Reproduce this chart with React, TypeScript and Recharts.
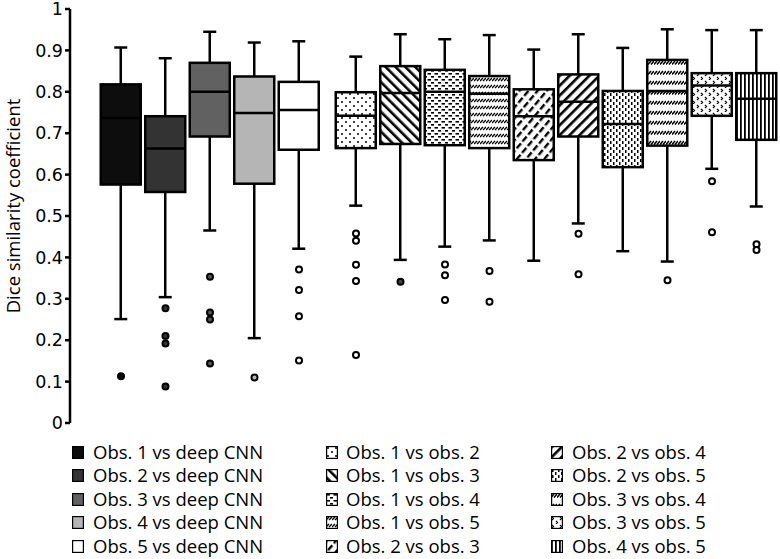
import { ComposedChart, Bar, Scatter, XAxis, YAxis } from "recharts";

// one box per comparison
const labels = [
  "Obs. 1 vs deep CNN",
  "Obs. 2 vs deep CNN",
  "Obs. 3 vs deep CNN",
  "Obs. 4 vs deep CNN",
  "Obs. 5 vs deep CNN",
  "Obs. 1 vs obs. 2",
  "Obs. 1 vs obs. 3",
  "Obs. 1 vs obs. 4",
  "Obs. 1 vs obs. 5",
  "Obs. 2 vs obs. 3",
  "Obs. 2 vs obs. 4",
  "Obs. 2 vs obs. 5",
  "Obs. 3 vs obs. 4",
  "Obs. 3 vs obs. 5",
  "Obs. 4 vs obs. 5",
];
const whiskerLow = [0.251, 0.304, 0.465, 0.205, 0.421, 0.525, 0.394, 0.426, 0.441, 0.392, 0.482, 0.415, 0.39, 0.614, 0.523];
const q1 = [0.576, 0.558, 0.692, 0.578, 0.66, 0.664, 0.674, 0.671, 0.664, 0.635, 0.692, 0.618, 0.67, 0.742, 0.684];
const medians = [0.737, 0.663, 0.8, 0.749, 0.756, 0.742, 0.797, 0.8, 0.795, 0.741, 0.776, 0.722, 0.802, 0.815, 0.783];
const q3 = [0.818, 0.741, 0.87, 0.837, 0.824, 0.799, 0.862, 0.853, 0.838, 0.806, 0.842, 0.802, 0.877, 0.845, 0.845];
const whiskerHigh = [0.907, 0.881, 0.945, 0.919, 0.922, 0.885, 0.939, 0.927, 0.937, 0.902, 0.939, 0.906, 0.951, 0.949, 0.949];
const outliers = [
  [0.113],
  [0.277, 0.21, 0.192, 0.088],
  [0.353, 0.267, 0.25, 0.144],
  [0.11],
  [0.371, 0.321, 0.258, 0.151],
  [0.458, 0.44, 0.382, 0.343, 0.164],
  [0.341],
  [0.383, 0.357, 0.297],
  [0.367, 0.293],
  [],
  [0.457, 0.359],
  [],
  [0.345],
  [0.584, 0.461],
  [0.432, 0.418],
];
const yTicks = [0, 0.1, 0.2, 0.3, 0.4, 0.5, 0.6, 0.7, 0.8, 0.9, 1];

// styling
const boxFills = [
  "#0d0d0d", "#333333", "#616161", "#b5b5b5", "#ffffff",
  "url(#pDots)", "url(#pDiagBack)", "url(#pDash)", "url(#pBand)", "url(#pDiagBroken)",
  "url(#pDiagFwd)", "url(#pVDash)", "url(#pBand2)", "url(#pChev)", "url(#pVLines)",
];
const outlierFills = [
  "#0d0d0d", "#333333", "#555555", "#b5b5b5", "#fff",
  "#fff", "#444", "#fff", "#fff", "#fff", "#fff", "#fff", "#fff", "#fff", "#fff",
];
const GROUP_GAP = 0.281; // extra room between the CNN group and the observer pairs
const slotOf = (i: number) => i + 1 + (i >= 5 ? GROUP_GAP : 0);

const boxes = labels.map((name, i) => ({
  name,
  x: slotOf(i),
  range: [whiskerLow[i], whiskerHigh[i]],
  min: whiskerLow[i],
  q1: q1[i],
  median: medians[i],
  q3: q3[i],
  max: whiskerHigh[i],
  fill: boxFills[i],
}));
const outlierPoints = outliers.flatMap((vals, i) =>
  vals.map((v) => ({ x: slotOf(i), y: v, fill: outlierFills[i] }))
);

const SW = 2.5;

const BoxShape = (props: any) => {
  const { x, y, width, height, payload } = props;
  if (!payload || height == null) return null;
  const { min, q1, median, q3, max, fill } = payload;
  const py = (v: number) => y + ((max - v) / (max - min)) * height;
  const cx = x + width / 2;
  return (
    <g>
      <line x1={cx} x2={cx} y1={py(max)} y2={py(q3)} stroke="#000" strokeWidth={SW} />
      <line x1={cx} x2={cx} y1={py(q1)} y2={py(min)} stroke="#000" strokeWidth={SW} />
      <line x1={cx - 6.5} x2={cx + 6.5} y1={py(max)} y2={py(max)} stroke="#000" strokeWidth={SW} />
      <line x1={cx - 6.5} x2={cx + 6.5} y1={py(min)} y2={py(min)} stroke="#000" strokeWidth={SW} />
      <rect x={x} y={py(q3)} width={width} height={py(q1) - py(q3)} fill={fill} stroke="#000" strokeWidth={SW} />
      <line x1={x} x2={x + width} y1={py(median)} y2={py(median)} stroke="#000" strokeWidth={SW} />
    </g>
  );
};

const OutlierDot = (props: any) => {
  const { cx, cy, payload } = props;
  return <circle cx={cx} cy={cy} r={3} fill={payload.fill} stroke="#000" strokeWidth={2} />;
};

const AxisTitle = (props: any) => {
  const vb = props.viewBox || {};
  const x = (vb.x ?? 0) + 20;
  const y = (vb.y ?? 0) + (vb.height ?? 0) / 2 - 10;
  return (
    <text x={x} y={y} transform={`rotate(-90 ${x} ${y})`} textAnchor="middle" fontSize={18.5} fontFamily="Open Sans" fill="#000">
      Dice similarity coefficient
    </text>
  );
};

const Patterns = () => (
  <defs>
    <pattern id="pDots" width="8" height="8" patternUnits="userSpaceOnUse">
      <rect width="8" height="8" fill="#fff" />
      <circle cx="2" cy="2" r="1" fill="#000" />
      <circle cx="6" cy="6" r="1" fill="#000" />
    </pattern>
    <pattern id="pDiagBack" width="7" height="7" patternUnits="userSpaceOnUse" patternTransform="rotate(-45)">
      <rect width="7" height="7" fill="#fff" />
      <rect width="2.6" height="7" fill="#000" />
    </pattern>
    <pattern id="pDiagFwd" width="7" height="7" patternUnits="userSpaceOnUse" patternTransform="rotate(45)">
      <rect width="7" height="7" fill="#fff" />
      <rect width="2.6" height="7" fill="#000" />
    </pattern>
    <pattern id="pDiagBroken" width="7" height="9" patternUnits="userSpaceOnUse" patternTransform="rotate(40)">
      <rect width="7" height="9" fill="#fff" />
      <rect width="2.4" height="6.5" fill="#000" />
    </pattern>
    <pattern id="pDash" width="7" height="6" patternUnits="userSpaceOnUse">
      <rect width="7" height="6" fill="#fff" />
      <rect x="0.5" y="1" width="3.5" height="1.6" fill="#000" />
      <rect x="4" y="4" width="3.5" height="1.6" fill="#000" />
    </pattern>
    <pattern id="pBand" width="6" height="7" patternUnits="userSpaceOnUse">
      <rect width="6" height="7" fill="#fff" />
      <path d="M0,4 L3,1 M3,4 L6,1" stroke="#000" strokeWidth="1.4" />
    </pattern>
    <pattern id="pBand2" width="6" height="10" patternUnits="userSpaceOnUse">
      <rect width="6" height="10" fill="#fff" />
      <path d="M0,4.5 L3,1 M3,4.5 L6,1" stroke="#000" strokeWidth="1.5" />
    </pattern>
    <pattern id="pVDash" width="6" height="6" patternUnits="userSpaceOnUse">
      <rect width="6" height="6" fill="#fff" />
      <rect x="1" y="0" width="1.5" height="3" fill="#000" />
      <rect x="4" y="3" width="1.5" height="3" fill="#000" />
    </pattern>
    <pattern id="pChev" width="8" height="8" patternUnits="userSpaceOnUse">
      <rect width="8" height="8" fill="#fff" />
      <path d="M1,1 L2.5,2.5 L1,4 M5,5 L6.5,6.5 L5,8" stroke="#000" strokeWidth="1.2" fill="none" />
    </pattern>
    <pattern id="pVLines" width="4" height="4" patternUnits="userSpaceOnUse">
      <rect width="4" height="4" fill="#fff" />
      <rect width="1.8" height="4" fill="#000" />
    </pattern>
  </defs>
);

const legendCols = [
  { swatchX: 72, textX: 93, items: [0, 1, 2, 3, 4] },
  { swatchX: 326, textX: 346, items: [5, 6, 7, 8, 9] },
  { swatchX: 551, textX: 572, items: [10, 11, 12, 13, 14] },
];
const legendRowY = [452, 475, 499, 522, 546];

const App = () => {
  return (
    <div style={{ position: "absolute", left: 0, top: 0, width: 780, height: 559, background: "#fff", fontFamily: "Open Sans" }}>
      <ComposedChart width={780} height={440} data={boxes} margin={{ top: 9, right: 0, bottom: 17, left: 0 }}>
        <Patterns />
        <XAxis
          type="number"
          dataKey="x"
          domain={[-0.146, 15.809]}
          ticks={boxes.map((b) => b.x)}
          allowDataOverflow
          hide
        />
        <YAxis
          type="number"
          domain={[0, 1]}
          ticks={yTicks}
          width={70}
          interval={0}
          tickFormatter={(v: number) => (v === 0 || v === 1 ? String(v) : v.toFixed(1))}
          tick={{ fill: "#000", fontSize: 17.5, fontFamily: "DejaVu Sans" }}
          tickSize={5}
          tickLine={{ stroke: "#000", strokeWidth: SW }}
          axisLine={{ stroke: "#000", strokeWidth: SW }}
          label={AxisTitle}
        />
        <Bar dataKey="range" barSize={40} shape={BoxShape} isAnimationActive={false} />
        <Scatter data={outlierPoints} dataKey="y" shape={OutlierDot} isAnimationActive={false} />
      </ComposedChart>
      {legendCols.map((col) =>
        col.items.map((idx, r) => (
          <div key={idx} style={{ position: "absolute", left: col.swatchX, top: legendRowY[r] - 12, height: 24, display: "flex", alignItems: "center" }}>
            <svg width={12} height={13} style={{ display: "block" }}>
              <rect x={0.6} y={0.6} width={10.8} height={11.8} fill={boxFills[idx]} stroke="#000" strokeWidth={1.2} />
            </svg>
            <span style={{ position: "absolute", left: col.textX - col.swatchX, whiteSpace: "nowrap", fontSize: 18.5, color: "#000", lineHeight: "24px" }}>
              {labels[idx]}
            </span>
          </div>
        ))
      )}
    </div>
  );
};

export default App;
